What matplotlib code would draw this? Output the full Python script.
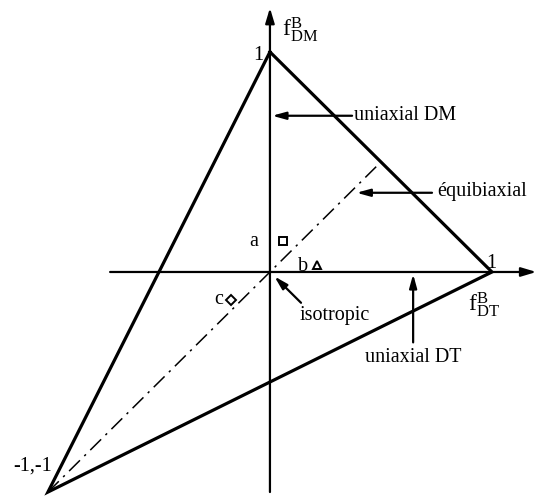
import matplotlib
matplotlib.use("Agg")
import matplotlib.pyplot as plt

plt.rcParams['font.family'] = ['Liberation Serif', 'DejaVu Serif']
plt.rcParams['mathtext.fontset'] = 'custom'
plt.rcParams['mathtext.rm'] = 'Liberation Serif'
plt.rcParams['mathtext.it'] = 'Liberation Serif'

# triangle vertices (f_DT, f_DM)
tri_x = [0, 1, -1, 0]
tri_y = [1, 0, -1, 1]

# equibiaxial line
equi_x = [-1, 0.5]
equi_y = [-1, 0.5]

# samples
sample_names = ['a', 'b', 'c']
sample_x = [0.06, 0.21, -0.175]
sample_y = [0.14, 0.03, -0.127]
sample_markers = ['s', '^', 'D']

fig = plt.figure(figsize=(5.45, 4.96), dpi=100)
ax = fig.add_axes([0, 0, 1, 1])
ax.set_xlim(-1.216, 1.239)
ax.set_ylim(-1.018, 1.236)
ax.axis('off')

fs = 14.5

# axes with arrows
axis_kw = dict(arrowstyle='-|>,head_length=0.9,head_width=0.27', lw=1.6, color='black', shrinkA=0, shrinkB=0)
ax.annotate('', xy=(1.2, 0), xytext=(-0.72, 0), arrowprops=axis_kw)
ax.annotate('', xy=(0, 1.2), xytext=(0, -1.0), arrowprops=axis_kw)

ax.plot(tri_x, tri_y, color='black', lw=2.3, solid_joinstyle='miter')
ax.plot(equi_x, equi_y, color='black', lw=1.1, linestyle=(0, (10, 4, 1.5, 4)))

for name, x, y, m in zip(sample_names, sample_x, sample_y, sample_markers):
    ms = {'s': 5.5, '^': 5.5, 'D': 5}[m]
    ax.plot(x, y, marker=m, ms=ms, mfc='white', mec='black', mew=1.4, ls='none')

ax.text(-0.055, 0.14, 'a', fontsize=fs, ha='right', va='center')
ax.text(0.17, 0.025, 'b', fontsize=fs, ha='right', va='center')
ax.text(-0.21, -0.127, 'c', fontsize=fs, ha='right', va='center')

ax.text(-0.03, 0.985, '1', fontsize=fs, ha='right', va='center')
ax.text(0.995, 0.04, '1', fontsize=fs, ha='center', va='center')
ax.text(-1.07, -0.88, '-1,-1', fontsize=fs, ha='center', va='center')
ax.text(0.055, 1.1, r'f$^{\mathrm{B}}_{\mathrm{DM}}$', fontsize=17, ha='left', va='center')
ax.text(0.89, -0.15, r'f$^{\mathrm{B}}_{\mathrm{DT}}$', fontsize=17, ha='left', va='center')

arrow_kw = dict(arrowstyle='-|>,head_length=0.8,head_width=0.22', lw=1.6, color='black', shrinkA=0, shrinkB=0)
ax.annotate('', xy=(0.01, 0.71), xytext=(0.37, 0.71), arrowprops=arrow_kw)
ax.text(0.38, 0.71, 'uniaxial DM', fontsize=fs, ha='left', va='center')

ax.annotate('', xy=(0.39, 0.36), xytext=(0.73, 0.36), arrowprops=arrow_kw)
ax.text(0.755, 0.365, 'équibiaxial', fontsize=fs, ha='left', va='center')

ax.annotate('', xy=(0.02, -0.02), xytext=(0.14, -0.14), arrowprops=arrow_kw)
ax.text(0.135, -0.2, 'isotropic', fontsize=fs, ha='left', va='center')

ax.annotate('', xy=(0.645, -0.01), xytext=(0.645, -0.32), arrowprops=arrow_kw)
ax.text(0.645, -0.39, 'uniaxial DT', fontsize=fs, ha='center', va='center')

fig.savefig('out.png', dpi=100)
